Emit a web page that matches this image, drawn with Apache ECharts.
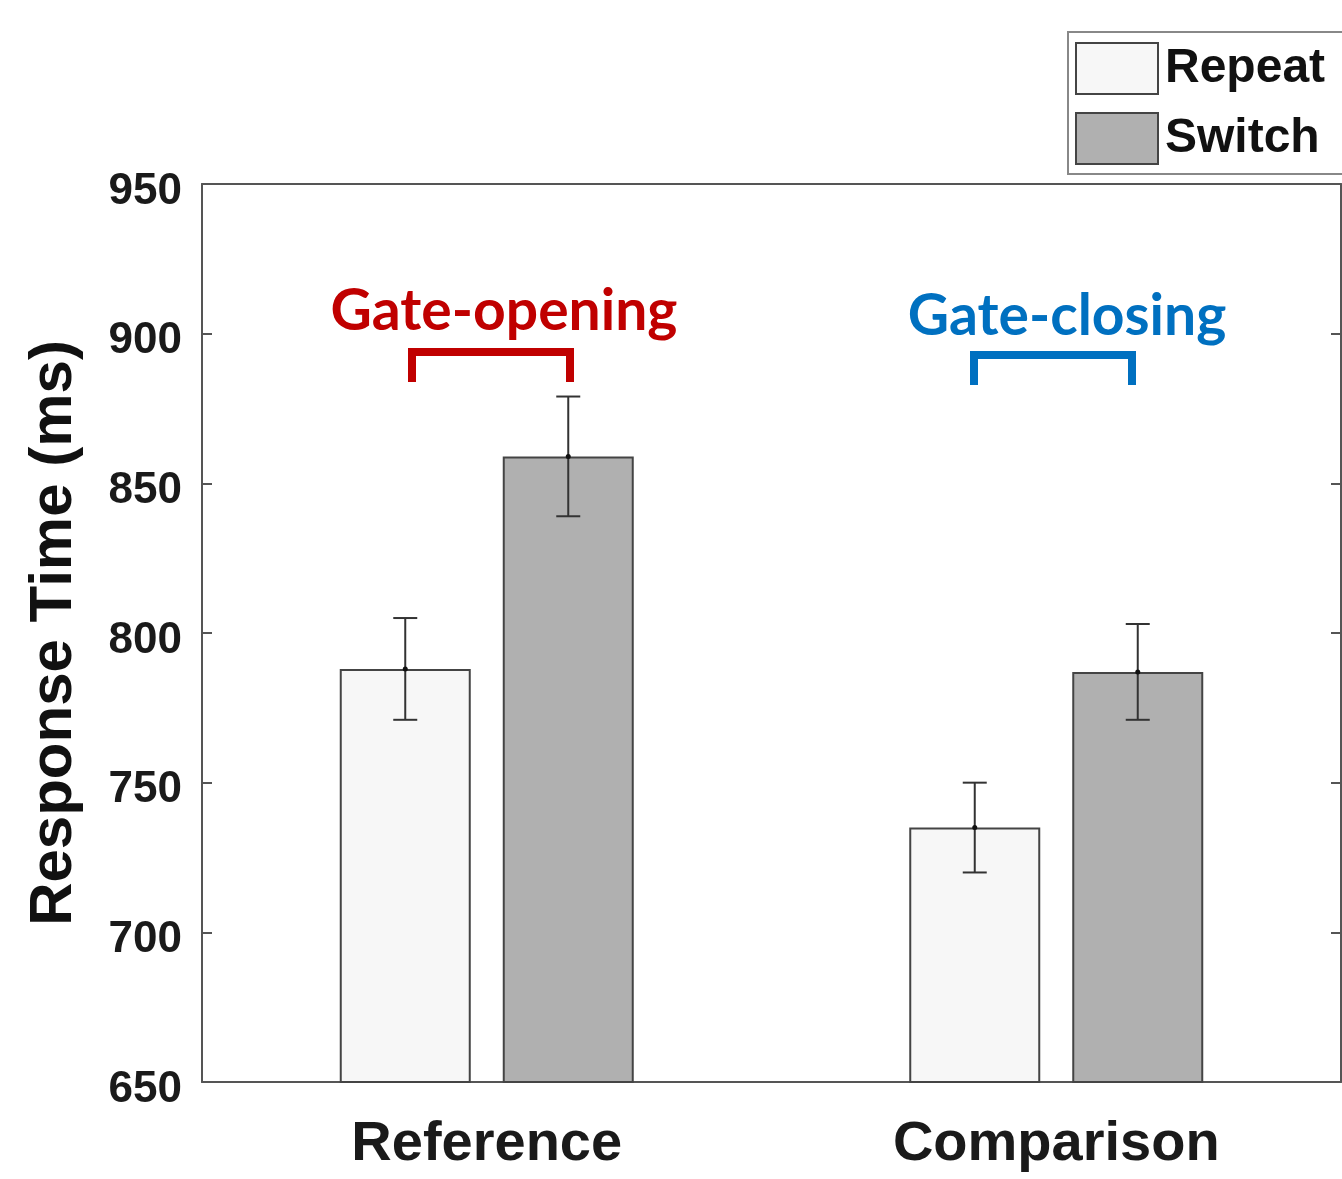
<!DOCTYPE html>
<html>
<head>
<meta charset="utf-8">
<script src="https://cdn.jsdelivr.net/npm/echarts@6/dist/echarts.min.js"></script>
<style>
  html, body { margin: 0; padding: 0; background: #fff; }
  #chart { width: 1342px; height: 1179px; }
</style>
</head>
<body>
<div id="chart"></div>
<script>
const categories = ['Reference', 'Comparison']
const repeatRT = [788, 735]
const switchRT = [859, 787]
const repeatErr = [17, 15]
const switchErr = [20, 16]
const yTicks = { min: 650, max: 950, step: 50 }

const BAR_W = 131
const BAR_GAP = 32
const OFFSET = (BAR_W + BAR_GAP) / 2
const AXIS_COLOR = '#555'
const FONT = 'Liberation Sans, Arial, sans-serif'

const chart = echarts.init(document.getElementById('chart'))

// error bar: vertical whisker with caps and a small dot at the mean
const errorRender = (offset) => (params, api) => {
  const i = api.value(0)
  const m = api.value(1)
  const e = api.value(2)
  const top = api.coord([i, m + e])
  const bot = api.coord([i, m - e])
  const mid = api.coord([i, m])
  const x = top[0] + offset
  const cap = 12
  const style = { stroke: '#333', lineWidth: 2 }
  return {
    type: 'group',
    children: [
      { type: 'line', shape: { x1: x, y1: top[1], x2: x, y2: bot[1] }, style },
      { type: 'line', shape: { x1: x - cap, y1: top[1], x2: x + cap, y2: top[1] }, style },
      { type: 'line', shape: { x1: x - cap, y1: bot[1], x2: x + cap, y2: bot[1] }, style },
      { type: 'circle', shape: { cx: x, cy: mid[1], r: 2.5 }, style: { fill: '#111' } }
    ]
  }
}

const bracket = (x1, x2, y, depth, color) => ({
  type: 'polyline',
  shape: { points: [[x1, y + depth], [x1, y], [x2, y], [x2, y + depth]] },
  style: { stroke: color, lineWidth: 8, fill: null, lineJoin: 'miter', lineCap: 'butt' },
  z: 10
})

const option = {
  backgroundColor: '#fff',
  animation: false,
  grid: { left: 202, right: 1, top: 184, bottom: 97 },
  legend: {
    orient: 'vertical',
    left: 1068,
    top: 32,
    padding: [10, 20, 9, 7],
    itemWidth: 82,
    itemHeight: 51,
    itemGap: 17,
    icon: 'rect',
    borderColor: '#888',
    borderWidth: 2,
    backgroundColor: '#fff',
    textStyle: { fontFamily: FONT, fontWeight: 'bold', fontSize: 48, color: '#111', padding: [0, 0, 0, 2] },
    data: ['Repeat', 'Switch']
  },
  xAxis: [
    {
      type: 'category',
      data: categories,
      position: 'bottom',
      axisLine: { lineStyle: { color: AXIS_COLOR, width: 2 } },
      axisTick: { inside: true, length: 9, alignWithLabel: true, lineStyle: { color: AXIS_COLOR, width: 2 } },
      axisLabel: { fontFamily: FONT, fontWeight: 'bold', fontSize: 56, color: '#1a1a1a', margin: 35 }
    },
    {
      type: 'category',
      data: categories,
      position: 'top',
      axisLine: { lineStyle: { color: AXIS_COLOR, width: 2 } },
      axisTick: { inside: true, length: 9, alignWithLabel: true, lineStyle: { color: AXIS_COLOR, width: 2 } },
      axisLabel: { show: false }
    }
  ],
  yAxis: [
    {
      type: 'value',
      min: yTicks.min,
      max: yTicks.max,
      interval: yTicks.step,
      position: 'left',
      name: 'Response Time (ms)',
      nameLocation: 'middle',
      nameRotate: 90,
      nameGap: 118,
      nameTextStyle: { fontFamily: FONT, fontWeight: 'bold', fontSize: 60, color: '#111' },
      axisLine: { show: true, lineStyle: { color: AXIS_COLOR, width: 2 } },
      axisTick: { show: true, inside: true, length: 10, lineStyle: { color: AXIS_COLOR, width: 2 } },
      axisLabel: {
        margin: 20,
        formatter: '{t|{value}}',
        rich: {
          t: { fontFamily: FONT, fontWeight: 'bold', fontSize: 44, color: '#1a1a1a', padding: [15, 0, 0, 0] }
        }
      },
      splitLine: { show: false }
    },
    {
      type: 'value',
      min: yTicks.min,
      max: yTicks.max,
      interval: yTicks.step,
      position: 'right',
      axisLine: { show: true, lineStyle: { color: AXIS_COLOR, width: 2 } },
      axisTick: { show: true, inside: true, length: 10, lineStyle: { color: AXIS_COLOR, width: 2 } },
      axisLabel: { show: false },
      splitLine: { show: false }
    }
  ],
  series: [
    {
      name: 'Repeat',
      type: 'bar',
      data: repeatRT,
      barWidth: BAR_W,
      barGap: (BAR_GAP / BAR_W * 100) + '%',
      itemStyle: { color: '#f7f7f7', borderColor: '#444', borderWidth: 2 }
    },
    {
      name: 'Switch',
      type: 'bar',
      data: switchRT,
      barWidth: BAR_W,
      itemStyle: { color: '#b0b0b0', borderColor: '#444', borderWidth: 2 }
    },
    {
      type: 'custom',
      renderItem: errorRender(-OFFSET),
      encode: { x: 0, y: 1 },
      data: categories.map((c, i) => [i, repeatRT[i], repeatErr[i]]),
      z: 5
    },
    {
      type: 'custom',
      renderItem: errorRender(OFFSET),
      encode: { x: 0, y: 1 },
      data: categories.map((c, i) => [i, switchRT[i], switchErr[i]]),
      z: 5
    }
  ],
  graphic: [
    {
      type: 'text',
      x: 504, y: 283,
      style: { text: 'Gate-opening', fill: '#c00000', font: 'bold 57px Lato, sans-serif', textAlign: 'center' },
      z: 10
    },
    bracket(412, 570, 352, 30, '#c00000'),
    {
      type: 'text',
      x: 1067, y: 288,
      style: { text: 'Gate-closing', fill: '#0070c0', font: 'bold 57px Lato, sans-serif', textAlign: 'center' },
      z: 10
    },
    bracket(974, 1132, 355, 30, '#0070c0')
  ]
}

chart.setOption(option)
</script>
</body>
</html>
